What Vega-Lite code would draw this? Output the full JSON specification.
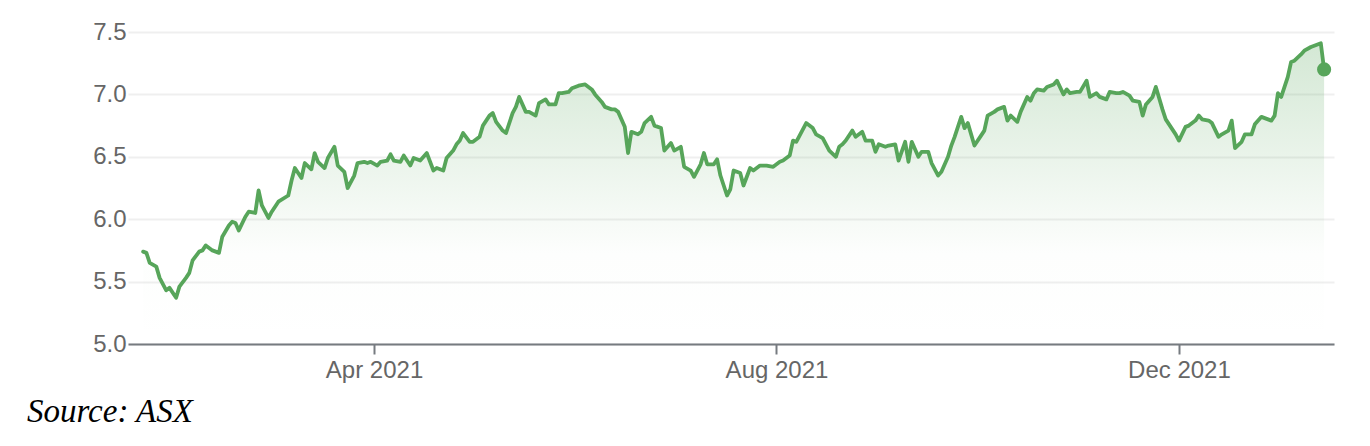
{
  "$schema": "https://vega.github.io/schema/vega-lite/v6.json",
  "width": 1206,
  "height": 312,
  "autosize": {"type": "none"},
  "padding": {"left": 128, "top": 32, "right": 36, "bottom": 102},
  "background": "white",
  "config": {
    "view": {"stroke": null},
    "font": "Liberation Sans"
  },
  "title": {
    "text": "Source: ASX",
    "orient": "bottom",
    "anchor": "start",
    "frame": "group",
    "dx": -101,
    "offset": 14,
    "font": "Liberation Serif",
    "fontStyle": "italic",
    "fontWeight": "normal",
    "fontSize": 33,
    "color": "#000000"
  },
  "data": {
    "format": {"parse": {"date": "date"}},
    "values": [
      {"date": "2021-01-21", "price": 5.74},
      {"date": "2021-01-22", "price": 5.73},
      {"date": "2021-01-23", "price": 5.65},
      {"date": "2021-01-25", "price": 5.62},
      {"date": "2021-01-26", "price": 5.53},
      {"date": "2021-01-28", "price": 5.43},
      {"date": "2021-01-29", "price": 5.45},
      {"date": "2021-01-31", "price": 5.37},
      {"date": "2021-02-01", "price": 5.46},
      {"date": "2021-02-03", "price": 5.53},
      {"date": "2021-02-04", "price": 5.57},
      {"date": "2021-02-05", "price": 5.67},
      {"date": "2021-02-07", "price": 5.74},
      {"date": "2021-02-08", "price": 5.75},
      {"date": "2021-02-09", "price": 5.79},
      {"date": "2021-02-11", "price": 5.75},
      {"date": "2021-02-13", "price": 5.73},
      {"date": "2021-02-14", "price": 5.86},
      {"date": "2021-02-16", "price": 5.95},
      {"date": "2021-02-17", "price": 5.98},
      {"date": "2021-02-18", "price": 5.97},
      {"date": "2021-02-19", "price": 5.91},
      {"date": "2021-02-21", "price": 6.02},
      {"date": "2021-02-22", "price": 6.06},
      {"date": "2021-02-24", "price": 6.05},
      {"date": "2021-02-25", "price": 6.23},
      {"date": "2021-02-26", "price": 6.11},
      {"date": "2021-02-28", "price": 6.01},
      {"date": "2021-03-01", "price": 6.06},
      {"date": "2021-03-03", "price": 6.14},
      {"date": "2021-03-06", "price": 6.19},
      {"date": "2021-03-07", "price": 6.31},
      {"date": "2021-03-08", "price": 6.41},
      {"date": "2021-03-10", "price": 6.33},
      {"date": "2021-03-11", "price": 6.45},
      {"date": "2021-03-13", "price": 6.40},
      {"date": "2021-03-14", "price": 6.53},
      {"date": "2021-03-15", "price": 6.46},
      {"date": "2021-03-17", "price": 6.41},
      {"date": "2021-03-18", "price": 6.49},
      {"date": "2021-03-20", "price": 6.58},
      {"date": "2021-03-21", "price": 6.43},
      {"date": "2021-03-23", "price": 6.38},
      {"date": "2021-03-24", "price": 6.25},
      {"date": "2021-03-26", "price": 6.35},
      {"date": "2021-03-27", "price": 6.45},
      {"date": "2021-03-29", "price": 6.46},
      {"date": "2021-03-30", "price": 6.45},
      {"date": "2021-03-31", "price": 6.46},
      {"date": "2021-04-02", "price": 6.43},
      {"date": "2021-04-03", "price": 6.46},
      {"date": "2021-04-05", "price": 6.47},
      {"date": "2021-04-06", "price": 6.52},
      {"date": "2021-04-07", "price": 6.47},
      {"date": "2021-04-09", "price": 6.46},
      {"date": "2021-04-10", "price": 6.51},
      {"date": "2021-04-12", "price": 6.43},
      {"date": "2021-04-13", "price": 6.49},
      {"date": "2021-04-15", "price": 6.47},
      {"date": "2021-04-16", "price": 6.50},
      {"date": "2021-04-17", "price": 6.53},
      {"date": "2021-04-19", "price": 6.39},
      {"date": "2021-04-20", "price": 6.41},
      {"date": "2021-04-22", "price": 6.39},
      {"date": "2021-04-23", "price": 6.49},
      {"date": "2021-04-25", "price": 6.55},
      {"date": "2021-04-26", "price": 6.60},
      {"date": "2021-04-27", "price": 6.63},
      {"date": "2021-04-28", "price": 6.69},
      {"date": "2021-04-30", "price": 6.62},
      {"date": "2021-05-01", "price": 6.62},
      {"date": "2021-05-03", "price": 6.66},
      {"date": "2021-05-04", "price": 6.75},
      {"date": "2021-05-06", "price": 6.83},
      {"date": "2021-05-07", "price": 6.85},
      {"date": "2021-05-08", "price": 6.78},
      {"date": "2021-05-10", "price": 6.71},
      {"date": "2021-05-11", "price": 6.69},
      {"date": "2021-05-13", "price": 6.85},
      {"date": "2021-05-14", "price": 6.90},
      {"date": "2021-05-15", "price": 6.98},
      {"date": "2021-05-17", "price": 6.86},
      {"date": "2021-05-18", "price": 6.86},
      {"date": "2021-05-20", "price": 6.83},
      {"date": "2021-05-21", "price": 6.93},
      {"date": "2021-05-23", "price": 6.96},
      {"date": "2021-05-24", "price": 6.92},
      {"date": "2021-05-26", "price": 6.92},
      {"date": "2021-05-27", "price": 7.01},
      {"date": "2021-05-28", "price": 7.01},
      {"date": "2021-05-30", "price": 7.02},
      {"date": "2021-05-31", "price": 7.05},
      {"date": "2021-06-02", "price": 7.07},
      {"date": "2021-06-04", "price": 7.08},
      {"date": "2021-06-06", "price": 7.04},
      {"date": "2021-06-07", "price": 7.00},
      {"date": "2021-06-09", "price": 6.94},
      {"date": "2021-06-10", "price": 6.90},
      {"date": "2021-06-12", "price": 6.88},
      {"date": "2021-06-13", "price": 6.88},
      {"date": "2021-06-14", "price": 6.86},
      {"date": "2021-06-16", "price": 6.74},
      {"date": "2021-06-17", "price": 6.53},
      {"date": "2021-06-18", "price": 6.70},
      {"date": "2021-06-20", "price": 6.68},
      {"date": "2021-06-21", "price": 6.70},
      {"date": "2021-06-22", "price": 6.77},
      {"date": "2021-06-24", "price": 6.82},
      {"date": "2021-06-25", "price": 6.75},
      {"date": "2021-06-27", "price": 6.73},
      {"date": "2021-06-28", "price": 6.55},
      {"date": "2021-06-30", "price": 6.61},
      {"date": "2021-07-01", "price": 6.55},
      {"date": "2021-07-03", "price": 6.58},
      {"date": "2021-07-04", "price": 6.42},
      {"date": "2021-07-06", "price": 6.39},
      {"date": "2021-07-07", "price": 6.34},
      {"date": "2021-07-09", "price": 6.44},
      {"date": "2021-07-10", "price": 6.53},
      {"date": "2021-07-11", "price": 6.44},
      {"date": "2021-07-13", "price": 6.44},
      {"date": "2021-07-14", "price": 6.48},
      {"date": "2021-07-15", "price": 6.35},
      {"date": "2021-07-17", "price": 6.19},
      {"date": "2021-07-18", "price": 6.24},
      {"date": "2021-07-19", "price": 6.39},
      {"date": "2021-07-21", "price": 6.37},
      {"date": "2021-07-22", "price": 6.27},
      {"date": "2021-07-24", "price": 6.41},
      {"date": "2021-07-25", "price": 6.39},
      {"date": "2021-07-27", "price": 6.43},
      {"date": "2021-07-29", "price": 6.43},
      {"date": "2021-07-31", "price": 6.42},
      {"date": "2021-08-02", "price": 6.46},
      {"date": "2021-08-03", "price": 6.47},
      {"date": "2021-08-05", "price": 6.51},
      {"date": "2021-08-06", "price": 6.63},
      {"date": "2021-08-07", "price": 6.62},
      {"date": "2021-08-10", "price": 6.77},
      {"date": "2021-08-12", "price": 6.73},
      {"date": "2021-08-13", "price": 6.68},
      {"date": "2021-08-15", "price": 6.65},
      {"date": "2021-08-16", "price": 6.60},
      {"date": "2021-08-17", "price": 6.55},
      {"date": "2021-08-19", "price": 6.50},
      {"date": "2021-08-20", "price": 6.58},
      {"date": "2021-08-21", "price": 6.60},
      {"date": "2021-08-22", "price": 6.63},
      {"date": "2021-08-24", "price": 6.71},
      {"date": "2021-08-25", "price": 6.66},
      {"date": "2021-08-27", "price": 6.70},
      {"date": "2021-08-28", "price": 6.63},
      {"date": "2021-08-30", "price": 6.63},
      {"date": "2021-08-31", "price": 6.54},
      {"date": "2021-09-01", "price": 6.60},
      {"date": "2021-09-03", "price": 6.58},
      {"date": "2021-09-04", "price": 6.59},
      {"date": "2021-09-06", "price": 6.60},
      {"date": "2021-09-07", "price": 6.47},
      {"date": "2021-09-09", "price": 6.62},
      {"date": "2021-09-10", "price": 6.46},
      {"date": "2021-09-11", "price": 6.62},
      {"date": "2021-09-13", "price": 6.50},
      {"date": "2021-09-14", "price": 6.54},
      {"date": "2021-09-16", "price": 6.54},
      {"date": "2021-09-17", "price": 6.45},
      {"date": "2021-09-19", "price": 6.35},
      {"date": "2021-09-20", "price": 6.38},
      {"date": "2021-09-22", "price": 6.50},
      {"date": "2021-09-23", "price": 6.59},
      {"date": "2021-09-24", "price": 6.66},
      {"date": "2021-09-26", "price": 6.82},
      {"date": "2021-09-27", "price": 6.73},
      {"date": "2021-09-28", "price": 6.77},
      {"date": "2021-09-30", "price": 6.59},
      {"date": "2021-10-02", "price": 6.67},
      {"date": "2021-10-03", "price": 6.71},
      {"date": "2021-10-04", "price": 6.83},
      {"date": "2021-10-06", "price": 6.86},
      {"date": "2021-10-07", "price": 6.88},
      {"date": "2021-10-09", "price": 6.90},
      {"date": "2021-10-10", "price": 6.79},
      {"date": "2021-10-11", "price": 6.83},
      {"date": "2021-10-13", "price": 6.78},
      {"date": "2021-10-14", "price": 6.86},
      {"date": "2021-10-16", "price": 6.98},
      {"date": "2021-10-17", "price": 6.95},
      {"date": "2021-10-18", "price": 7.01},
      {"date": "2021-10-19", "price": 7.04},
      {"date": "2021-10-21", "price": 7.03},
      {"date": "2021-10-22", "price": 7.06},
      {"date": "2021-10-24", "price": 7.08},
      {"date": "2021-10-25", "price": 7.11},
      {"date": "2021-10-27", "price": 7.00},
      {"date": "2021-10-28", "price": 7.04},
      {"date": "2021-10-29", "price": 7.01},
      {"date": "2021-10-31", "price": 7.02},
      {"date": "2021-11-01", "price": 7.02},
      {"date": "2021-11-03", "price": 7.11},
      {"date": "2021-11-04", "price": 6.98},
      {"date": "2021-11-06", "price": 7.01},
      {"date": "2021-11-07", "price": 6.98},
      {"date": "2021-11-09", "price": 6.96},
      {"date": "2021-11-10", "price": 7.02},
      {"date": "2021-11-12", "price": 7.01},
      {"date": "2021-11-13", "price": 7.01},
      {"date": "2021-11-14", "price": 7.02},
      {"date": "2021-11-16", "price": 6.99},
      {"date": "2021-11-17", "price": 6.95},
      {"date": "2021-11-19", "price": 6.94},
      {"date": "2021-11-20", "price": 6.83},
      {"date": "2021-11-21", "price": 6.92},
      {"date": "2021-11-23", "price": 6.98},
      {"date": "2021-11-24", "price": 7.06},
      {"date": "2021-11-26", "price": 6.88},
      {"date": "2021-11-27", "price": 6.80},
      {"date": "2021-11-29", "price": 6.72},
      {"date": "2021-11-30", "price": 6.68},
      {"date": "2021-12-01", "price": 6.63},
      {"date": "2021-12-03", "price": 6.74},
      {"date": "2021-12-04", "price": 6.75},
      {"date": "2021-12-06", "price": 6.79},
      {"date": "2021-12-07", "price": 6.83},
      {"date": "2021-12-08", "price": 6.80},
      {"date": "2021-12-10", "price": 6.79},
      {"date": "2021-12-11", "price": 6.77},
      {"date": "2021-12-13", "price": 6.66},
      {"date": "2021-12-14", "price": 6.68},
      {"date": "2021-12-16", "price": 6.71},
      {"date": "2021-12-17", "price": 6.79},
      {"date": "2021-12-18", "price": 6.57},
      {"date": "2021-12-20", "price": 6.62},
      {"date": "2021-12-21", "price": 6.68},
      {"date": "2021-12-23", "price": 6.68},
      {"date": "2021-12-24", "price": 6.76},
      {"date": "2021-12-26", "price": 6.82},
      {"date": "2021-12-27", "price": 6.81},
      {"date": "2021-12-29", "price": 6.79},
      {"date": "2021-12-30", "price": 6.83},
      {"date": "2021-12-31", "price": 7.01},
      {"date": "2022-01-01", "price": 6.98},
      {"date": "2022-01-03", "price": 7.14},
      {"date": "2022-01-04", "price": 7.26},
      {"date": "2022-01-05", "price": 7.27},
      {"date": "2022-01-07", "price": 7.32},
      {"date": "2022-01-08", "price": 7.35},
      {"date": "2022-01-10", "price": 7.38},
      {"date": "2022-01-12", "price": 7.40},
      {"date": "2022-01-13", "price": 7.41},
      {"date": "2022-01-14", "price": 7.20}
    ]
  },
  "encoding": {
    "x": {
      "field": "date",
      "type": "temporal",
      "scale": {
        "type": "utc",
        "domain": [
          {"year": 2021, "month": 1, "date": 16, "hours": 10, "utc": true},
          {"year": 2022, "month": 1, "date": 17, "utc": true}
        ]
      },
      "axis": {
        "title": null,
        "values": [
          {"year": 2021, "month": 4, "date": 1, "utc": true},
          {"year": 2021, "month": 8, "date": 1, "utc": true},
          {"year": 2021, "month": 12, "date": 1, "utc": true}
        ],
        "labelExpr": "utcFormat(datum.value, '%b %Y')",
        "grid": false,
        "domainColor": "#767b80",
        "domainWidth": 2,
        "tickColor": "#767b80",
        "tickWidth": 2,
        "tickSize": 10,
        "labelFont": "Liberation Sans",
        "labelFontSize": 24,
        "labelColor": "#666666",
        "labelPadding": 4,
        "labelFlush": false
      }
    },
    "y": {
      "field": "price",
      "type": "quantitative",
      "scale": {"domain": [5, 7.5], "zero": false, "nice": false},
      "axis": {
        "title": null,
        "values": [5, 5.5, 6, 6.5, 7, 7.5],
        "format": ".1f",
        "domain": false,
        "ticks": false,
        "grid": true,
        "gridColor": "#efefef",
        "gridWidth": 2,
        "labelFont": "Liberation Sans",
        "labelFontSize": 24,
        "labelColor": "#666666",
        "labelPadding": 2
      }
    }
  },
  "layer": [
    {
      "mark": {
        "type": "area",
        "fill": {
          "gradient": "linear",
          "x1": 0, "y1": 1, "x2": 0, "y2": 0,
          "stops": [
            {"offset": 0, "color": "rgba(87,165,90,0)"},
            {"offset": 0.3, "color": "rgba(87,165,90,0.01)"},
            {"offset": 1, "color": "rgba(87,165,90,0.26)"}
          ]
        }
      },
      "encoding": {"y2": {"datum": 5}}
    },
    {
      "mark": {"type": "line", "color": "#57a55a", "strokeWidth": 3.8, "strokeJoin": "round", "strokeCap": "round"}
    },
    {
      "transform": [{"filter": "utcyear(datum.date) == 2022 && utcmonth(datum.date) == 0 && utcdate(datum.date) == 14"}],
      "mark": {"type": "point", "filled": true, "color": "#57a55a", "size": 200, "opacity": 1}
    }
  ]
}
